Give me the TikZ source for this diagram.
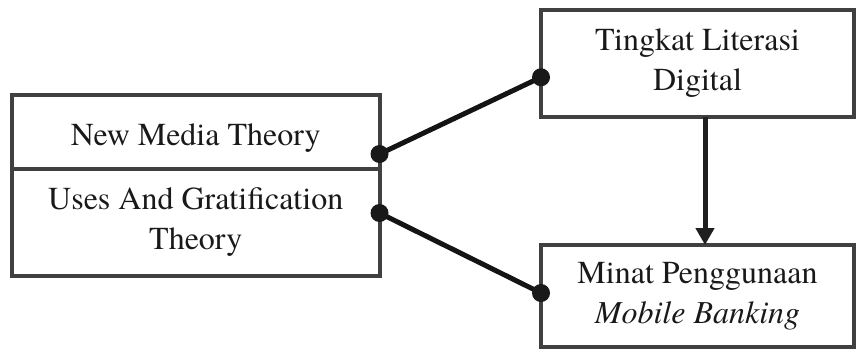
\documentclass[tikz,border=0pt]{standalone}
\usepackage{fontspec}
\setmainfont{texgyretermes}[Extension=.otf, UprightFont=*-regular, ItalicFont=*-italic, BoldFont=*-bold, BoldItalicFont=*-bolditalic]
\usetikzlibrary{arrows.meta}
\tikzset{
  boxnode/.style={draw=black!75, line width=4bp, rectangle, outer sep=0pt, inner sep=0pt,
    align=center, text=black!90, font=\fontsize{32bp}{40bp}\selectfont},
  conn/.style={line width=5bp, draw=black!92},
  dotmark/.style={fill=black!90},
  flowarrow/.style={line width=5bp, draw=black!88, -{Triangle[length=17bp,width=18bp]}}
}
\begin{document}
\begin{tikzpicture}[x=1bp,y=-1bp]
\useasboundingbox (0,0) rectangle (856,351);
\node[boxnode, minimum width=367.5bp, minimum height=74bp, text height=33bp, text depth=7bp] (nm) at (195.75,132) {New Media Theory};
\node[boxnode, minimum width=367.5bp, minimum height=106.5bp] (ug) at (195.75,222.25) {Uses And Gratification\\Theory};
\node[boxnode, minimum width=313bp, minimum height=106.5bp] (tl) at (697.5,63.25) {Tingkat Literasi\\Digital};
\node[boxnode, minimum width=313bp, minimum height=102bp] (mb) at (697.5,296) {Minat Penggunaan\\\textit{Mobile Banking}};
\coordinate (a) at ([yshift=15bp]nm.south east);
\coordinate (b) at ([yshift=-44bp]ug.north east);
\coordinate (c) at ([yshift=-14bp]tl.west);
\coordinate (d) at ([yshift=3bp]mb.west);
\draw[conn] (a) -- (c);
\draw[conn] (b) -- (d);
\fill[dotmark] (a) circle (9bp);
\fill[dotmark] (b) circle (9bp);
\fill[dotmark] (c) circle (9bp);
\fill[dotmark] (d) circle (9bp);
\draw[flowarrow] ([xshift=7.5bp]tl.south) -- ([xshift=7.5bp]mb.north);
\end{tikzpicture}
\end{document}
